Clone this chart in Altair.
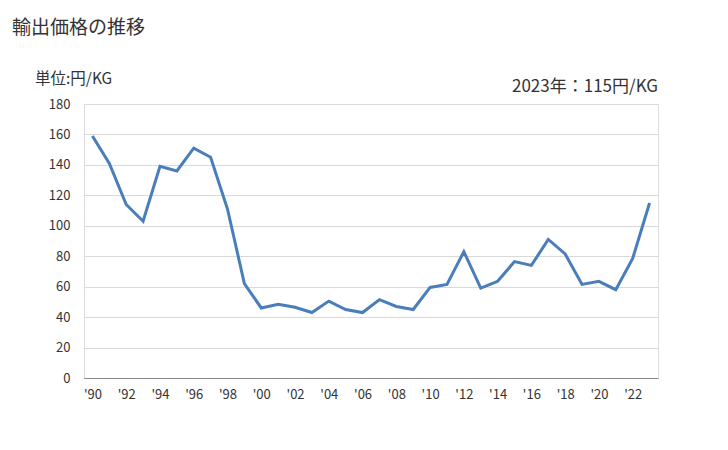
import altair as alt
import pandas as pd

years = list(range(1990, 2024))
values = [159, 141, 114, 103, 139, 136, 151, 145, 111, 62,
          46, 48.5, 46.5, 43, 50.5, 45, 43, 51.5, 47, 45,
          59.5, 61.5, 83, 59, 63.5, 76.5, 74, 91, 81.5, 61.5,
          63.5, 58, 78.5, 115]
tick_years = [y for y in years if y % 2 == 0]

df = pd.DataFrame({"year": [str(y) for y in years], "value": values})
one = pd.DataFrame({"k": [0]})

FONT = "Noto Sans CJK JP"

line = alt.Chart(df).mark_line(color="#4a7ebb", strokeWidth=3).encode(
    x=alt.X("year:O", title=None,
            scale=alt.Scale(type="point", padding=0.5),
            axis=alt.Axis(values=[str(y) for y in tick_years],
                          labelExpr="\"'\" + substring(datum.label, 2, 4)",
                          labelAngle=0, ticks=False, domain=True,
                          domainColor="#888888", labelFontSize=13,
                          labelColor="#333333", labelPadding=10, grid=False,
                          labelFont=FONT)),
    y=alt.Y("value:Q", title=None,
            scale=alt.Scale(domain=[0, 180], nice=False),
            axis=alt.Axis(values=list(range(0, 181, 20)), ticks=False,
                          domain=False, gridColor="#d9d9d9", labelFontSize=13,
                          labelColor="#333333", labelPadding=14, labelFont=FONT)),
)

txt = alt.Chart(one)

title = txt.mark_text(align="left", baseline="middle", fontSize=19,
                      font=FONT, fontWeight="normal", color="#333333").encode(
    x=alt.value(-72), y=alt.value(-76), text=alt.value("輸出価格の推移"))

unit = txt.mark_text(align="left", baseline="middle", fontSize=15.5,
                     font=FONT, fontWeight="normal", color="#333333").encode(
    x=alt.value(-49), y=alt.value(-25), text=alt.value("単位:円/KG"))

latest = txt.mark_text(align="right", baseline="middle", fontSize=17,
                       font=FONT, fontWeight="normal", color="#333333").encode(
    x=alt.value(574), y=alt.value(-17), text=alt.value("2023年：115円/KG"))

chart = alt.layer(line, title, unit, latest).properties(
    width=574, height=274,
    autosize=alt.AutoSizeParams(type="none"),
    padding={"left": 84, "top": 104, "right": 70, "bottom": 72},
).configure_view(stroke=None).configure(background="white")

chart.save("out.html", embed_options={"renderer": "svg", "actions": False})
